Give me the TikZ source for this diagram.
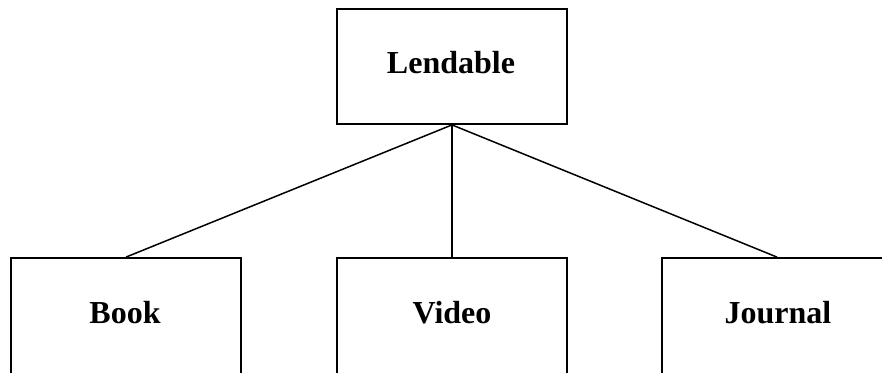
\documentclass[tikz,border=0pt]{standalone}
\usepackage{fontspec}
\setmainfont{Liberation Serif}
\begin{document}
\begin{tikzpicture}[x=1pt,y=-1pt,
  classbox/.style={draw=black, line width=1.8pt, rectangle, minimum width=230pt, inner sep=0pt},
  classname/.style={anchor=base, inner sep=0pt, font=\fontsize{32pt}{36pt}\selectfont\bfseries},
  link/.style={draw=black, line width=1.5pt}]
  \useasboundingbox (0,0) rectangle (882,372);
  \clip (0,0) rectangle (882,372);
  % class boxes
  \node[classbox, minimum height=115pt] (lendable) at (452,66.5) {};
  \node[classbox, minimum height=120pt] (book) at (126,318) {};
  \node[classbox, minimum height=120pt] (video) at (452,318) {};
  \node[classbox, minimum height=120pt] (journal) at (777,318) {};
  % class names
  \node[classname] (tLendable) at (451,73) {Lendable};
  \node[classname] (tBook) at (125,323) {Book};
  \node[classname] (tVideo) at (452,323) {Video};
  \node[classname] (tJournal) at (778,323) {Journal};
  % inheritance links
  \draw[link] (lendable.south) -- (book.north);
  \draw[link] (lendable.south) -- (video.north);
  \draw[link] (lendable.south) -- (journal.north);
\end{tikzpicture}
\end{document}
